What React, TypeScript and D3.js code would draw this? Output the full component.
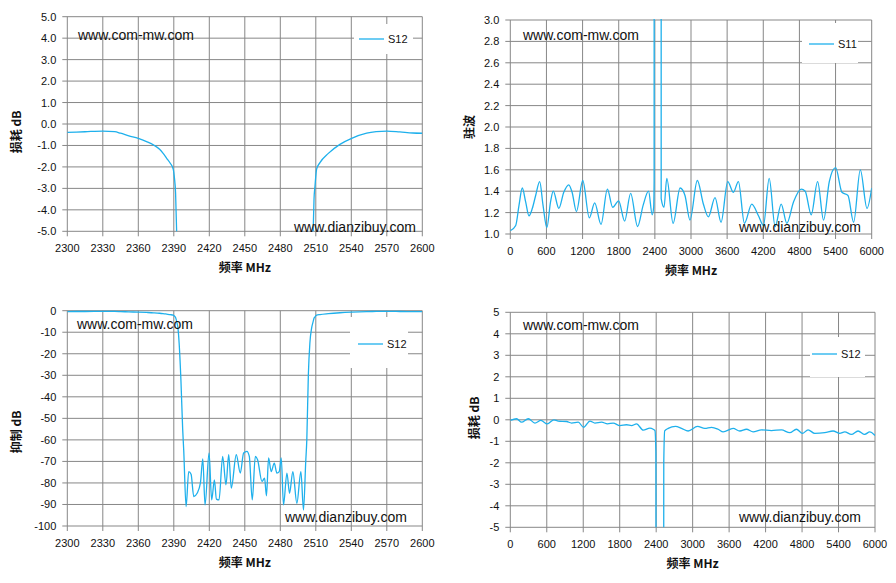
import React from "react";
import * as d3 from "d3";

// S12 around the stop band (2300-2600 MHz), used by the two left charts
const narrowFreq = [
  2300, 2315, 2330, 2340, 2345, 2352, 2360, 2367, 2373, 2378, 2381, 2384, 2387, 2389.5, 2390.5,
  2391.5, 2392.5, 2393.5, 2394.5, 2396, 2397.5, 2398.4, 2400.4, 2402.6, 2404.6, 2406.9, 2409.7,
  2412.5, 2414.5, 2416.4, 2419.8, 2422, 2424.3, 2426, 2428.2, 2431.3, 2434.1, 2436.4, 2438.6,
  2442.8, 2446.2, 2449, 2451.8, 2453.8, 2456.3, 2458.9, 2460.8, 2464.5, 2466.7, 2468.3, 2470.1,
  2472.3, 2474.9, 2477.1, 2479.1, 2480.8, 2482.7, 2485.6, 2487.8, 2490.6, 2494, 2497.4, 2499.6,
  2501.5, 2502.4, 2503.7, 2505, 2506.5, 2507.8, 2508.5, 2509.3, 2510.7, 2513.5, 2520.6, 2530.4,
  2540.3, 2553, 2561, 2570, 2581, 2592, 2600,
];
const narrowLoss = [
  -0.39, -0.36, -0.33, -0.36, -0.43, -0.55, -0.67, -0.82, -0.98, -1.18, -1.37, -1.6, -1.83, -2.1,
  -2.5, -3.2, -5.2, -8, -15, -32, -55, -65, -91, -74.7, -76, -86.3, -84.8, -80, -68.8, -90.2,
  -66.1, -87.9, -78.6, -87.5, -87.9, -67.7, -80.9, -66.9, -82.4, -66.9, -75.4, -66.1, -65.3,
  -67.7, -87.9, -67.7, -69.2, -79.3, -77.8, -86, -68.4, -74.7, -70.8, -75.4, -74.7, -68.4, -90.2,
  -75.4, -84.8, -74.7, -89.4, -74.7, -92.6, -70, -60, -30, -15, -8, -5, -3.5, -2.9, -2.1, -1.8,
  -1.37, -0.95, -0.67, -0.43, -0.36, -0.33, -0.37, -0.42, -0.43,
];

// S11 VSWR, 0-6000 MHz
const vswrFreq = [
  0, 90, 145, 199, 255, 310, 366, 421, 488, 543, 607, 668, 713, 806, 888, 971, 1026, 1098, 1203,
  1312, 1401, 1506, 1612, 1699, 1799, 1898, 1998, 2113, 2206, 2295, 2356, 2380, 2388, 2393, 2503,
  2505, 2552, 2598, 2703, 2819, 2900, 2983, 3105, 3205, 3288, 3399, 3499, 3610, 3704, 3787, 3887,
  4009, 4120, 4203, 4298, 4397, 4497, 4591, 4702, 4830, 4896, 4996, 5102, 5201, 5296, 5401, 5506,
  5606, 5700, 5811, 5922, 6000,
];
const vswrValue = [
  1.03, 1.08, 1.27, 1.43, 1.3, 1.17, 1.24, 1.36, 1.49, 1.27, 1.06, 1.3, 1.4, 1.24, 1.39, 1.46,
  1.39, 1.21, 1.5, 1.15, 1.29, 1.09, 1.42, 1.25, 1.31, 1.12, 1.38, 1.07, 1.27, 1.4, 1.18, 1.25,
  1.5, 25, 25, 1.33, 1.25, 1.52, 1.1, 1.43, 1.36, 1.13, 1.5, 1.28, 1.16, 1.34, 1.11, 1.49, 1.39,
  1.49, 1.1, 1.28, 1.17, 1.08, 1.52, 1.07, 1.28, 1.1, 1.3, 1.42, 1.4, 1.18, 1.49, 1.13, 1.49,
  1.62, 1.39, 1.36, 1.11, 1.6, 1.24, 1.43,
];

// S12 wide band, 0-6000 MHz
const wideFreq = [
  0, 104, 186, 296, 405, 504, 608, 718, 789, 926, 1008, 1118, 1206, 1310, 1392, 1502, 1600, 1693,
  1803, 1913, 1995, 2077, 2187, 2296, 2351, 2380, 2395, 2405, 2515, 2525, 2540, 2598, 2718, 2817,
  2926, 3080, 3200, 3310, 3420, 3502, 3666, 3776, 3885, 3995, 4132, 4296, 4461, 4598, 4707, 4806,
  4899, 5009, 5173, 5310, 5420, 5502, 5612, 5721, 5831, 5913, 6000,
];
const wideLoss = [
  -0.03, 0.05, -0.11, 0.05, -0.15, -0.03, -0.19, 0, -0.06, -0.08, -0.15, -0.11, -0.35, -0.06,
  -0.15, -0.11, -0.19, -0.15, -0.27, -0.23, -0.27, -0.19, -0.48, -0.39, -0.44, -0.5, -1.5, -40,
  -40, -2, -0.52, -0.4, -0.31, -0.4, -0.52, -0.31, -0.4, -0.35, -0.44, -0.56, -0.4, -0.52, -0.44,
  -0.56, -0.47, -0.5, -0.47, -0.6, -0.44, -0.63, -0.47, -0.63, -0.6, -0.52, -0.63, -0.56, -0.68,
  -0.52, -0.68, -0.56, -0.73,
];

const narrowTicks = [2300, 2330, 2360, 2390, 2420, 2450, 2480, 2510, 2540, 2570, 2600];
const wideTicks = [0, 600, 1200, 1800, 2400, 3000, 3600, 4200, 4800, 5400, 6000];
const lossTicks = [-5, -4, -3, -2, -1, 0, 1, 2, 3, 4, 5];
const vswrTicks = [1.0, 1.2, 1.4, 1.6, 1.8, 2.0, 2.2, 2.4, 2.6, 2.8, 3.0];
const rejTicks = [-100, -90, -80, -70, -60, -50, -40, -30, -20, -10, 0];

const LINE = "#1EB0EC";
const GRID = "#878787";
const FONT = "Arial, 'Liberation Sans', sans-serif";
const CJK = "'Noto Sans CJK SC', sans-serif";

type Box = { x0: number; x1: number; y0: number; y1: number };

type PanelProps = {
  id: string;
  box: Box;
  xDomain: [number, number];
  xTicks: number[];
  yDomain: [number, number];
  yTicks: number[];
  yFmt: (v: number) => string;
  xs: number[];
  ys: number[];
  name: string;
  yTitle: string;
  yTitlePos: [number, number];
  legend: { x: number; y: number; w: number; h: number; lx: number; ly: number };
  marks: [number, number, number, number];
};

const Panel = (p: PanelProps) => {
  const { box } = p;
  const x = d3.scaleLinear().domain(p.xDomain).range([box.x0, box.x1]);
  const y = d3.scaleLinear().domain(p.yDomain).range([box.y1, box.y0]);
  const pts: [number, number][] = p.xs.map((v, i) => [v, p.ys[i]]);
  const line = d3
    .line<[number, number]>()
    .x((d) => x(d[0]))
    .y((d) => y(d[1]))
    .curve(d3.curveMonotoneX);
  const cx = (box.x0 + box.x1) / 2;

  return (
    <g>
      <defs>
        <clipPath id={p.id}>
          <rect x={box.x0} y={box.y0 - 1} width={box.x1 - box.x0} height={box.y1 - box.y0 + 1} />
        </clipPath>
      </defs>
      {p.yTicks.map((v, i) => (
        <g key={"h" + i}>
          <line x1={box.x0 - 5} x2={box.x1} y1={y(v)} y2={y(v)} stroke={GRID} strokeWidth={1} />
          <text x={box.x0 - 11} y={y(v) + 4} textAnchor="end" fontSize={11} fontFamily={FONT} fill="#111">
            {p.yFmt(v)}
          </text>
        </g>
      ))}
      {p.xTicks.map((v, i) => (
        <g key={"v" + i}>
          <line x1={x(v)} x2={x(v)} y1={box.y0} y2={box.y1 + 5} stroke={GRID} strokeWidth={1} />
          <text x={x(v)} y={box.y1 + 21} textAnchor="middle" fontSize={11} fontFamily={FONT} fill="#111">
            {v}
          </text>
        </g>
      ))}
      <rect x={p.legend.x} y={p.legend.y} width={p.legend.w} height={p.legend.h} fill="#fff" />
      <line x1={p.legend.lx} x2={p.legend.lx + 25} y1={p.legend.ly} y2={p.legend.ly} stroke={LINE} strokeWidth={1.3} />
      <text x={p.legend.lx + 29} y={p.legend.ly + 4} fontSize={11} fontFamily={FONT} fill="#111">
        {p.name}
      </text>
      <path d={line(pts) ?? ""} fill="none" stroke={LINE} strokeWidth={1.3} clipPath={`url(#${p.id})`} />
      <text x={p.marks[0]} y={p.marks[1]} fontSize={14} fontFamily={FONT} fill="#111">
        www.com-mw.com
      </text>
      <text x={p.marks[2]} y={p.marks[3]} fontSize={14} fontFamily={FONT} fill="#111">
        www.dianzibuy.com
      </text>
      <text x={cx} y={box.y1 + 40.5} textAnchor="middle" fontSize={12} fontWeight="bold" fontFamily={CJK} fill="#111">
        频率 MHz
      </text>
      <text
        transform={`translate(${p.yTitlePos[0] + 4},${p.yTitlePos[1]}) rotate(-90)`}
        textAnchor="middle"
        fontSize={12}
        fontWeight="bold"
        fontFamily={CJK}
        fill="#111"
      >
        {p.yTitle}
      </text>
    </g>
  );
};

const f1 = (v: number) => v.toFixed(1);
const f0 = (v: number) => String(v);

export default function App() {
  return (
    <svg
      width={896}
      height={583}
      style={{ position: "absolute", left: 0, top: 0, background: "#fff" }}
    >
      <Panel
        id="c1"
        box={{ x0: 67.3, x1: 422.3, y0: 16.7, y1: 231.3 }}
        xDomain={[2300, 2600]}
        xTicks={narrowTicks}
        yDomain={[-5, 5]}
        yTicks={lossTicks}
        yFmt={f1}
        xs={narrowFreq}
        ys={narrowLoss}
        name="S12"
        yTitle="损耗 dB"
        yTitlePos={[17, 132]}
        legend={{ x: 354, y: 24, w: 59, h: 30, lx: 359, ly: 39 }}
        marks={[78, 40, 294, 232]}
      />
      <Panel
        id="c2"
        box={{ x0: 510.3, x1: 871.7, y0: 20, y1: 234 }}
        xDomain={[0, 6000]}
        xTicks={wideTicks}
        yDomain={[1, 3]}
        yTicks={vswrTicks}
        yFmt={f1}
        xs={vswrFreq}
        ys={vswrValue}
        name="S11"
        yTitle="驻波"
        yTitlePos={[470, 127]}
        legend={{ x: 802, y: 23, w: 56, h: 40, lx: 809, ly: 44 }}
        marks={[523, 40, 739, 232]}
      />
      <Panel
        id="c3"
        box={{ x0: 67.3, x1: 422.3, y0: 310.7, y1: 526 }}
        xDomain={[2300, 2600]}
        xTicks={narrowTicks}
        yDomain={[-100, 0]}
        yTicks={rejTicks}
        yFmt={f0}
        xs={narrowFreq}
        ys={narrowLoss}
        name="S12"
        yTitle="抑制 dB"
        yTitlePos={[17, 432]}
        legend={{ x: 350, y: 317, w: 58, h: 51, lx: 358, ly: 344 }}
        marks={[77, 329, 285, 522]}
      />
      <Panel
        id="c4"
        box={{ x0: 510.3, x1: 875, y0: 312.3, y1: 527.3 }}
        xDomain={[0, 6000]}
        xTicks={wideTicks}
        yDomain={[-5, 5]}
        yTicks={lossTicks}
        yFmt={f0}
        xs={wideFreq}
        ys={wideLoss}
        name="S12"
        yTitle="损耗 dB"
        yTitlePos={[475, 418]}
        legend={{ x: 810, y: 337, w: 55, h: 40, lx: 812, ly: 354 }}
        marks={[523, 330, 739, 522]}
      />
    </svg>
  );
}
